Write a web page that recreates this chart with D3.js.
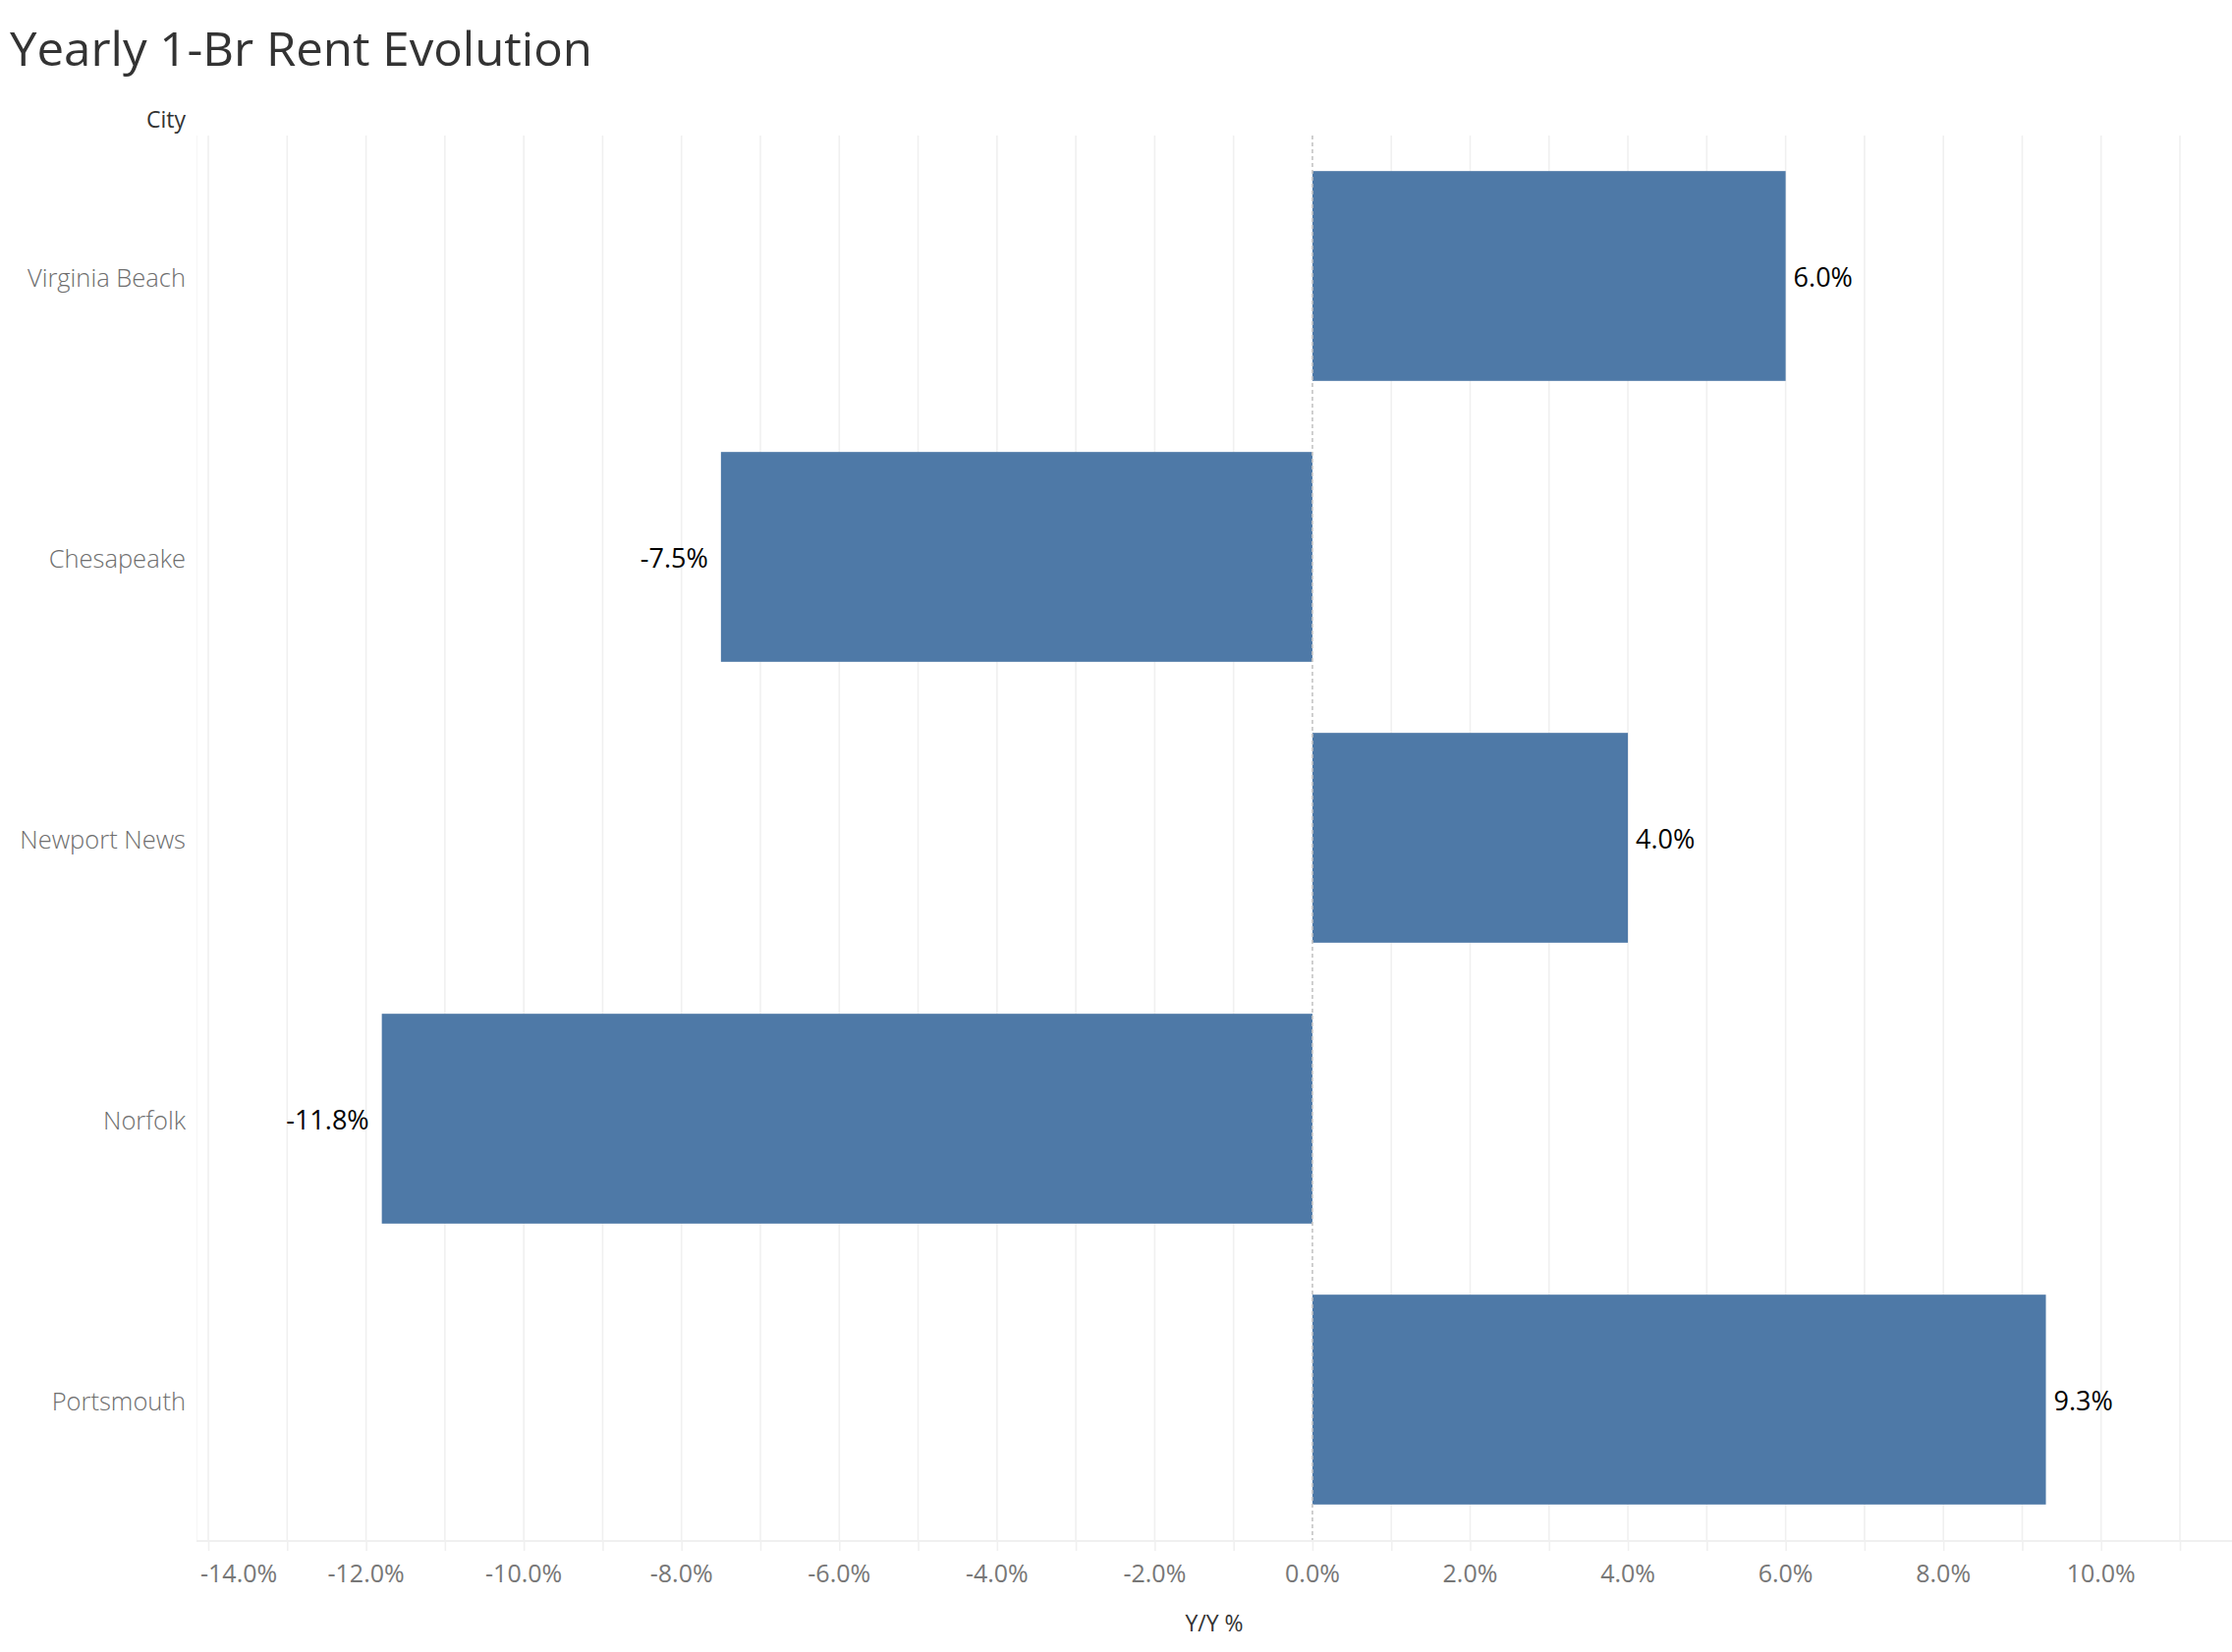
<!DOCTYPE html>
<html>
<head>
<meta charset="utf-8">
<script src="https://cdn.jsdelivr.net/npm/d3@7/dist/d3.min.js"></script>
<style>
  html, body { margin: 0; padding: 0; background: #fff; }
  svg { display: block; }
  text { font-family: "Open Sans", "Noto Sans", sans-serif; }
</style>
</head>
<body>
<svg id="chart" width="2272" height="1682"></svg>
<script>
// ---- data ----
const cities = ["Virginia Beach", "Chesapeake", "Newport News", "Norfolk", "Portsmouth"];
const yoyValues = [6.0, -7.5, 4.0, -11.8, 9.3];
const tickLabelValues = [-14, -12, -10, -8, -6, -4, -2, 0, 2, 4, 6, 8, 10];
const gridValues = d3.range(-14, 12, 1);
const xDomain = [-14.15, 11.66];

const title = "Yearly 1-Br Rent Evolution";
const rowHeader = "City";
const xTitle = "Y/Y %";

// ---- layout ----
const W = 2272, H = 1682;
const plot = { left: 200, right: 2272, top: 138, bottom: 1568 };

const svg = d3.select("#chart");

const x = d3.scaleLinear().domain(xDomain).range([plot.left, plot.right]);
const y = d3.scaleBand().domain(cities).range([plot.top, plot.bottom])
  .paddingInner(0.253).paddingOuter(0.1265);

const fmt = v => d3.format(".1f")(v).replace("\u2212", "-") + "%";

// title
svg.append("text")
  .attr("x", 10).attr("y", 67)
  .attr("font-size", 48)
  .attr("fill", "#333333")
  .attr("textLength", 593)
  .attr("lengthAdjust", "spacingAndGlyphs")
  .text(title);

// row header
svg.append("text")
  .attr("x", 189).attr("y", 130)
  .attr("text-anchor", "end")
  .attr("font-size", 23)
  .attr("fill", "#333333")
  .text(rowHeader);

// plot left border
svg.append("line")
  .attr("x1", plot.left + 0.5).attr("x2", plot.left + 0.5)
  .attr("y1", plot.top).attr("y2", plot.bottom)
  .attr("stroke", "#f6f6f6").attr("stroke-width", 1);

// gridlines
svg.append("g").selectAll("line")
  .data(gridValues.filter(d => d !== 0))
  .join("line")
  .attr("x1", d => x(d)).attr("x2", d => x(d))
  .attr("y1", plot.top).attr("y2", plot.bottom)
  .attr("stroke", "#f0f0f0").attr("stroke-width", 1.6);

// bottom axis line
svg.append("line")
  .attr("x1", plot.left).attr("x2", plot.right)
  .attr("y1", plot.bottom + 1).attr("y2", plot.bottom + 1)
  .attr("stroke", "#f0f0f0").attr("stroke-width", 2);

// axis with ticks (every 1%) and labels every 2%
const axisG = svg.append("g").attr("transform", `translate(0,${plot.bottom + 2})`);
const axis = d3.axisBottom(x).tickValues(gridValues).tickSize(9).tickFormat(() => "");
axisG.call(axis);
axisG.select(".domain").remove();
axisG.selectAll(".tick line").attr("stroke", "#f0f0f0").attr("stroke-width", 1.6);

const tickLabels = svg.append("g").selectAll("text")
  .data(tickLabelValues)
  .join("text")
  .attr("x", d => x(d)).attr("y", 1611)
  .attr("text-anchor", "middle")
  .attr("font-size", 25)
  .attr("fill", "#777777")
  .text(d => fmt(d));
// keep first label inside plot area
tickLabels.each(function() {
  const bb = this.getBBox();
  if (bb.x < plot.left + 4) {
    d3.select(this).attr("x", +d3.select(this).attr("x") + (plot.left + 4 - bb.x));
  }
});

// x axis title
svg.append("text")
  .attr("x", (plot.left + plot.right) / 2).attr("y", 1661)
  .attr("text-anchor", "middle")
  .attr("font-size", 23)
  .attr("fill", "#333333")
  .text(xTitle);

// category labels
svg.append("g").selectAll("text")
  .data(cities)
  .join("text")
  .attr("x", 189)
  .attr("y", d => y(d) + y.bandwidth() / 2)
  .attr("dy", "0.42em")
  .attr("text-anchor", "end")
  .attr("font-size", 25.5)
  .attr("font-weight", 300)
  .attr("fill", "#6e6e6e")
  .text(d => d);

const data = cities.map((c, i) => ({ city: c, value: yoyValues[i] }));

// bars
svg.append("g").selectAll("rect")
  .data(data)
  .join("rect")
  .attr("x", d => Math.min(x(0), x(d.value)))
  .attr("width", d => Math.abs(x(d.value) - x(0)))
  .attr("y", d => y(d.city))
  .attr("height", y.bandwidth())
  .attr("fill", "#4e79a7");

// zero line (dashed)
svg.append("line")
  .attr("x1", x(0)).attr("x2", x(0))
  .attr("y1", plot.top).attr("y2", plot.bottom)
  .attr("stroke", "#c4c4c4").attr("stroke-width", 1.6)
  .attr("stroke-dasharray", "4,3");

// bar labels
svg.append("g").selectAll("text")
  .data(data)
  .join("text")
  .attr("x", d => d.value >= 0 ? x(d.value) + 8 : x(d.value) - 13)
  .attr("y", d => y(d.city) + y.bandwidth() / 2)
  .attr("dy", "0.4em")
  .attr("text-anchor", d => d.value >= 0 ? "start" : "end")
  .attr("font-size", 27)
  .attr("fill", "#000000")
  .text(d => fmt(d.value));
</script>
</body>
</html>
